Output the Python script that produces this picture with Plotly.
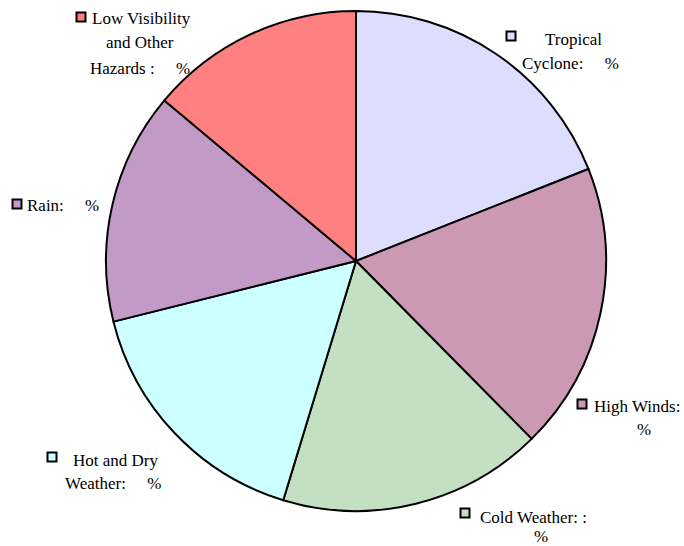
import plotly.graph_objects as go

W, H = 684, 546

categories = ["Tropical Cyclone", "High Winds", "Cold Weather", "Hot and Dry Weather",
              "Rain", "Low Visibility and Other Hazards"]
values = [19.0, 18.6, 17.1, 16.4, 15.0, 13.9]
colors = ["#DDDDFF", "#CC99B4", "#C3E0C3", "#CCFFFF", "#C399C6", "#FF8080"]

NB = "\u00a0"
label_lines = [
    ["Tropical", "Cyclone:" + NB * 4 + " %"],
    ["High Winds:", "%"],
    ["Cold Weather: :", "%"],
    ["Hot and Dry", "Weather:" + NB * 4 + " %"],
    ["Rain:" + NB * 4 + " %"],
    ["Low Visibility", "and Other", "Hazards :" + NB * 4 + " %"],
]

# layout (pixel positions of label lines and marker boxes)
line_pos = [
    [(573, 40), (570, 63)],
    [(637, 406), (644, 429)],
    [(533, 517), (541, 536)],
    [(115, 460), (113, 483)],
    [(63, 205)],
    [(141, 19), (140, 43), (140, 68)],
]
box_pos = [(511, 36), (582, 404), (465, 513), (52, 457), (17, 204), (81, 17)]

FONT = "Liberation Serif, Times New Roman, Times, serif"

fig = go.Figure(go.Pie(
    labels=categories,
    values=values,
    sort=False,
    direction="clockwise",
    rotation=0,
    textinfo="none",
    hoverinfo="label+percent",
    marker=dict(colors=colors, line=dict(color="black", width=2)),
    domain=dict(x=[106 / W, 606 / W], y=[1 - 511 / H, 1 - 11 / H]),
    showlegend=False,
))

annotations = []
for lines, poss in zip(label_lines, line_pos):
    for txt, (px, py) in zip(lines, poss):
        annotations.append(dict(
            text=txt, x=px / W, y=1 - py / H, xref="paper", yref="paper",
            xanchor="center", yanchor="middle", showarrow=False,
            font=dict(family=FONT, size=17, color="black"),
        ))

shapes = []
for (bx, by), c in zip(box_pos, colors):
    shapes.append(dict(
        type="rect", xref="paper", yref="paper",
        x0=(bx - 4.5) / W, x1=(bx + 4.5) / W, y0=1 - (by + 4.5) / H, y1=1 - (by - 4.5) / H,
        fillcolor=c, line=dict(color="black", width=2),
    ))

fig.update_layout(
    width=W, height=H,
    margin=dict(l=0, r=0, t=0, b=0),
    paper_bgcolor="white", plot_bgcolor="white",
    font=dict(family=FONT),
    annotations=annotations, shapes=shapes,
)

fig.write_html("out.html")
